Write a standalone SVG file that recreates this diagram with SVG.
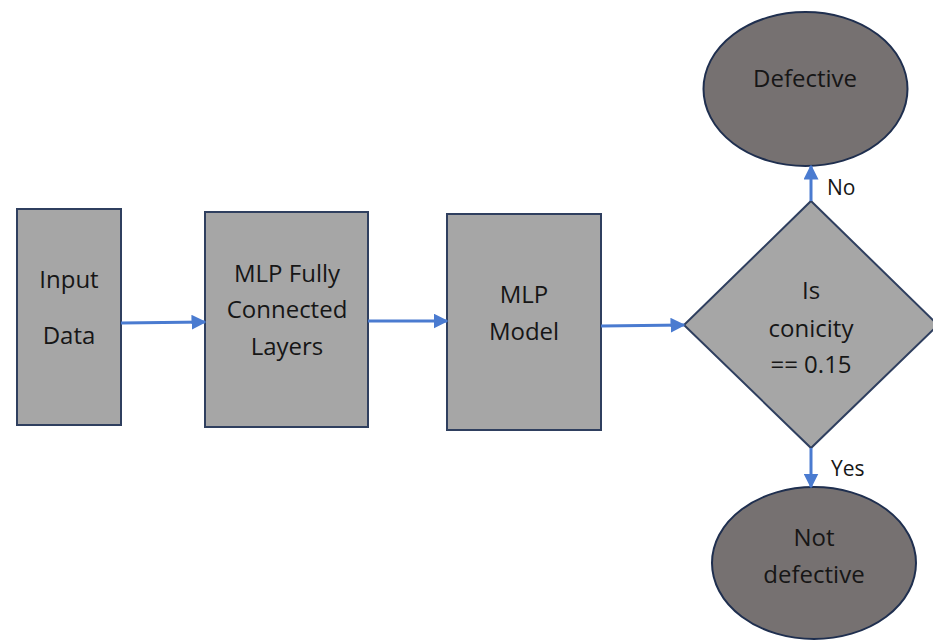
<svg xmlns="http://www.w3.org/2000/svg" width="933" height="641" viewBox="0 0 933 641">
  <style>
    .box { fill: #a6a6a6; stroke: #2f3f5f; stroke-width: 2; }
    .oval { fill: #767171; stroke: #1f2f4f; stroke-width: 2; }
    .lbl { font-family: "Open Sans", "Liberation Sans", sans-serif; font-size: 24px; fill: #161616; text-anchor: middle; }
    .side { font-family: "Open Sans", "Liberation Sans", sans-serif; font-size: 21px; fill: #161616; }
    .link { stroke: #4a7bd0; stroke-width: 3; fill: none; marker-end: url(#head); }
  </style>
  <defs>
    <marker id="head" viewBox="0 0 10 10" refX="9" refY="5" markerWidth="5" markerHeight="5" orient="auto" markerUnits="strokeWidth">
      <path d="M0,0 L10,5 L0,10 Z" fill="#4a7bd0"/>
    </marker>
  </defs>
  <rect width="933" height="641" fill="#ffffff"/>

  <g id="input-data">
    <rect class="box" x="17" y="209" width="104" height="216"/>
    <text class="lbl" x="69" y="288">Input</text>
    <text class="lbl" x="69" y="344">Data</text>
  </g>

  <g id="mlp-layers">
    <rect class="box" x="205" y="212" width="163" height="215"/>
    <text class="lbl" x="287" y="282">MLP Fully</text>
    <text class="lbl" x="287" y="318">Connected</text>
    <text class="lbl" x="287" y="355">Layers</text>
  </g>

  <g id="mlp-model">
    <rect class="box" x="447" y="214" width="154" height="216"/>
    <text class="lbl" x="524" y="303">MLP</text>
    <text class="lbl" x="524" y="340">Model</text>
  </g>

  <g id="decision">
    <polygon class="box" points="811,201 938,325 811,448 684,325"/>
    <text class="lbl" x="811" y="299">Is</text>
    <text class="lbl" x="811" y="337">conicity</text>
    <text class="lbl" x="811" y="373">== 0.15</text>
  </g>

  <g id="defective">
    <ellipse class="oval" cx="805.5" cy="89" rx="102" ry="77"/>
    <text class="lbl" x="805" y="87">Defective</text>
  </g>

  <g id="not-defective">
    <ellipse class="oval" cx="814" cy="563" rx="102" ry="76"/>
    <text class="lbl" x="814" y="546">Not</text>
    <text class="lbl" x="814" y="583">defective</text>
  </g>

  <g id="connectors">
    <line class="link" x1="121" y1="323" x2="205" y2="322"/>
    <line class="link" x1="368" y1="321" x2="447" y2="321"/>
    <line class="link" x1="601" y1="326" x2="684" y2="325"/>
    <line class="link" x1="811" y1="201" x2="811" y2="166"/>
    <line class="link" x1="811" y1="448" x2="811" y2="487"/>
    <text class="side" x="827" y="195">No</text>
    <text class="side" x="831" y="476">Yes</text>
  </g>
</svg>
